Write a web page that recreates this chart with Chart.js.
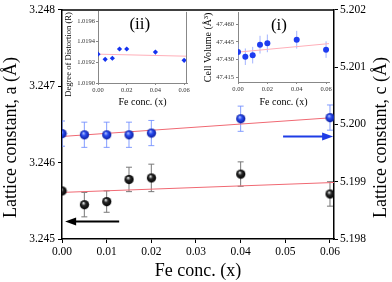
<!DOCTYPE html>
<html>
<head>
<meta charset="utf-8">
<script src="https://cdn.jsdelivr.net/npm/chart.js@4/dist/chart.umd.min.js"></script>
<style>
  body { margin: 0; background: #fff; }
  #wrap { position: relative; width: 392px; height: 282px; }
  #wrap canvas { position: absolute; }
</style>
</head>
<body>
<div id="wrap">
  <canvas id="mainChart" width="392" height="282" style="left:0;top:0"></canvas>
  <canvas id="distChart" width="128" height="104" style="left:63px;top:7px"></canvas>
  <canvas id="volChart" width="142" height="104" style="left:191px;top:7px"></canvas>
</div>
<script>
  // values
  const feConc = [0, 0.005, 0.01, 0.015, 0.02, 0.04, 0.06];
  const latticeA = [3.24563, 3.24545, 3.24549, 3.24578, 3.2458, 3.24585, 3.24559];
  const latticeAErr = [0.00016, 0.00016, 0.00014, 0.00016, 0.00018, 0.00016, 0.00016];
  const latticeC = [5.19984, 5.19982, 5.19982, 5.19982, 5.19985, 5.2001, 5.20012];
  const latticeCErr = [0.00022, 0.00022, 0.00022, 0.00022, 0.00022, 0.00022, 0.00022];
  const fitX = [0, 0.0609];
  const fitA = [3.24561, 3.24574];
  const fitC = [5.19979, 5.20012];

  const distortion = [1.01928, 1.01923, 1.01924, 1.01933, 1.01933, 1.0193, 1.01922];
  const cellVolume = [47.4363, 47.4324, 47.4337, 47.4426, 47.4437, 47.4468, 47.4384];
  const cellVolumeErr = [0.007, 0.007, 0.007, 0.0075, 0.0075, 0.0075, 0.007];
  const insetFitX = [0, 0.062];
  const distortionFit = [1.01928, 1.01926];
  const cellVolumeFit = [47.4363, 47.4435];

  const mainXTicks = [0, 0.01, 0.02, 0.03, 0.04, 0.05, 0.06];
  const aTicks = [3.245, 3.246, 3.247, 3.248];
  const cTicks = [5.198, 5.199, 5.2, 5.201, 5.202];
  const insetXTicks = [0, 0.02, 0.04, 0.06];
  const distTicks = [1.019, 1.0192, 1.0194, 1.0196];
  const volTicks = [47.415, 47.43, 47.445, 47.46];

  const serif = "'Liberation Serif', 'Times New Roman', serif";
  Chart.defaults.font.family = serif;
  Chart.defaults.color = '#000';

  const pts = (xs, ys) => xs.map((x, i) => ({ x: x, y: ys[i] }));
  const setTicks = (vals) => (scale) => { scale.ticks = vals.map((v) => ({ value: v })); };

  // shaded ball used as point marker
  const sphere = (r, hi, mid, edge) => {
    const c = document.createElement('canvas');
    c.width = c.height = 2 * r + 2;
    const ctx = c.getContext('2d');
    const m = r + 1;
    const g = ctx.createRadialGradient(m - r * 0.25, m - r * 0.4, r * 0.05, m, m, r);
    g.addColorStop(0, hi);
    g.addColorStop(0.4, mid);
    g.addColorStop(1, edge);
    ctx.fillStyle = g;
    ctx.beginPath();
    ctx.arc(m, m, r, 0, Math.PI * 2);
    ctx.fill();
    return c;
  };
  const blackBall = sphere(4.6, '#f4f8f8', '#2a2a2a', '#000');
  const blueBall = sphere(4.6, '#b8c8ff', '#2a4cf0', '#0a1ca0');

  const errorBars = (dsIndex, errs, color, cap, skip) => ({
    id: 'errbars' + dsIndex,
    beforeDatasetsDraw(chart) {
      const meta = chart.getDatasetMeta(dsIndex);
      const yScale = chart.scales[meta.yAxisID];
      const area = chart.chartArea;
      const ctx = chart.ctx;
      ctx.save();
      ctx.beginPath();
      ctx.rect(area.left, area.top - 20, area.right - area.left, area.bottom - area.top + 40);
      ctx.clip();
      ctx.strokeStyle = color;
      ctx.lineWidth = 1;
      meta.data.forEach((el, i) => {
        if (skip && skip.includes(i)) return;
        const v = chart.data.datasets[dsIndex].data[i].y;
        const top = yScale.getPixelForValue(v + errs[i]);
        const bot = yScale.getPixelForValue(v - errs[i]);
        ctx.beginPath();
        ctx.moveTo(el.x, top); ctx.lineTo(el.x, bot);
        ctx.moveTo(el.x - cap, top); ctx.lineTo(el.x + cap, top);
        ctx.moveTo(el.x - cap, bot); ctx.lineTo(el.x + cap, bot);
        ctx.stroke();
      });
      ctx.restore();
    },
  });

  // arrows pointing at the axis each series belongs to
  const arrows = [
    { axis: 'y', from: 0.0128, to: 0.0007, at: 3.24523, color: '#000' },
    { axis: 'y2', from: 0.0495, to: 0.0607, at: 5.19979, color: 'rgb(30,60,230)' },
  ];

  const mainDecor = {
    id: 'mainDecor',
    afterDraw(chart) {
      const ctx = chart.ctx;
      const area = chart.chartArea;
      const xs = chart.scales.x;
      ctx.save();
      // top frame line
      ctx.strokeStyle = '#000';
      ctx.lineWidth = 1.5;
      ctx.beginPath();
      ctx.moveTo(area.left, area.top);
      ctx.lineTo(area.right, area.top);
      ctx.stroke();

      arrows.forEach((a) => {
        const y = chart.scales[a.axis].getPixelForValue(a.at);
        const x0 = xs.getPixelForValue(a.from);
        const x1 = xs.getPixelForValue(a.to);
        const dir = Math.sign(x1 - x0);
        ctx.strokeStyle = a.color;
        ctx.fillStyle = a.color;
        ctx.lineWidth = 2;
        ctx.beginPath();
        ctx.moveTo(x0, y);
        ctx.lineTo(x1 - dir * 9, y);
        ctx.stroke();
        ctx.beginPath();
        ctx.moveTo(x1, y);
        ctx.lineTo(x1 - dir * 11, y - 4);
        ctx.lineTo(x1 - dir * 11, y + 4);
        ctx.closePath();
        ctx.fill();
      });

      // y titles, both read bottom to top
      ctx.fillStyle = '#000';
      ctx.font = '18px ' + serif;
      ctx.textAlign = 'center';
      ctx.textBaseline = 'middle';
      const midY = (area.top + area.bottom) / 2 + 13;
      ctx.translate(11, midY);
      ctx.rotate(-Math.PI / 2);
      ctx.fillText('Lattice constant, a (Å)', 0, 0);
      ctx.setTransform(1, 0, 0, 1, 0, 0);
      ctx.translate(381, midY);
      ctx.rotate(-Math.PI / 2);
      ctx.fillText('Lattice constant, c (Å)', 0, 0);
      ctx.restore();
    },
  };

  const axisStyle = () => ({
    grid: { drawOnChartArea: false, drawTicks: true, tickLength: 4, color: '#000' },
    border: { color: '#000', width: 1.5 },
  });

  new Chart(document.getElementById('mainChart'), {
    type: 'scatter',
    data: {
      datasets: [
        { data: pts(feConc, latticeA), yAxisID: 'y', pointStyle: blackBall, clip: 0 },
        { data: pts(feConc, latticeC), yAxisID: 'y2', pointStyle: blueBall, clip: 0 },
        { data: pts(fitX, fitA), yAxisID: 'y', showLine: true, borderColor: 'rgb(240,105,115)', borderWidth: 1, pointRadius: 0 },
        { data: pts(fitX, fitC), yAxisID: 'y2', showLine: true, borderColor: 'rgb(240,105,115)', borderWidth: 1, pointRadius: 0 },
      ],
    },
    options: {
      responsive: false,
      animation: false,
      devicePixelRatio: 1,
      layout: { padding: { top: 6, left: 0, right: 0, bottom: 0 } },
      plugins: { legend: { display: false }, tooltip: { enabled: false } },
      scales: {
        x: {
          type: 'linear',
          min: 0,
          max: 0.0609,
          afterBuildTicks: setTicks(mainXTicks),
          afterFit: (s) => { s.height = 43; },
          ticks: { callback: (v) => v.toFixed(2), font: { size: 11.5 }, padding: 2, maxRotation: 0, autoSkip: false },
          ...axisStyle(),
          title: { display: true, text: 'Fe conc. (x)', font: { size: 18 }, padding: 0 },
        },
        y: {
          position: 'left',
          min: 3.245,
          max: 3.248,
          afterBuildTicks: setTicks(aTicks),
          afterFit: (s) => { s.width = 62; },
          ticks: { callback: (v) => v.toFixed(3), font: { size: 11.5 }, padding: 3 },
          ...axisStyle(),
        },
        y2: {
          position: 'right',
          min: 5.198,
          max: 5.202,
          afterBuildTicks: setTicks(cTicks),
          afterFit: (s) => { s.width = 58; },
          ticks: { callback: (v) => v.toFixed(3), font: { size: 11.5 }, padding: 2 },
          ...axisStyle(),
        },
      },
    },
    plugins: [
      errorBars(0, latticeAErr, 'rgb(120,120,120)', 3, [0]),
      errorBars(1, latticeCErr, 'rgba(110,140,255,0.85)', 3),
      mainDecor,
    ],
  });

  // inset axes
  const insetX = (height) => ({
    type: 'linear',
    min: 0,
    max: 0.062,
    afterBuildTicks: setTicks(insetXTicks),
    afterFit: (s) => { s.height = height; },
    ticks: { callback: (v) => v.toFixed(2), font: { size: 6.5 }, color: '#333', padding: 1, maxRotation: 0, autoSkip: false },
    grid: { drawOnChartArea: false, tickLength: 2, color: '#888' },
    border: { color: '#888', width: 1 },
    title: { display: true, text: 'Fe conc. (x)', font: { size: 10 }, padding: { top: 0, bottom: 3 } },
  });

  const rightFrame = {
    id: 'rightFrame',
    afterDraw(chart) {
      const ctx = chart.ctx;
      const a = chart.chartArea;
      ctx.save();
      ctx.strokeStyle = '#888';
      ctx.lineWidth = 1;
      ctx.beginPath();
      ctx.moveTo(a.right - 0.5, a.top);
      ctx.lineTo(a.right - 0.5, a.bottom);
      ctx.stroke();
      ctx.restore();
    },
  };

  // panel tag, plus an optional hand-placed y title
  const insetLabel = (text, frac, yTitle) => ({
    id: 'insetLabel',
    afterDraw(chart) {
      const ctx = chart.ctx;
      const a = chart.chartArea;
      ctx.save();
      ctx.fillStyle = '#000';
      ctx.font = '17px ' + serif;
      ctx.textAlign = 'center';
      ctx.textBaseline = 'middle';
      ctx.fillText(text, a.left + (a.right - a.left) * frac, a.top + 13);
      if (yTitle) {
        ctx.font = yTitle.size + 'px ' + serif;
        ctx.translate(yTitle.x, (a.top + a.bottom) / 2 + yTitle.dy);
        ctx.rotate(-Math.PI / 2);
        ctx.fillText(yTitle.text, 0, 0);
      }
      ctx.restore();
    },
  });

  new Chart(document.getElementById('distChart'), {
    type: 'scatter',
    data: {
      datasets: [
        { data: pts(feConc, distortion), pointStyle: 'rectRot', pointRadius: 2.6, backgroundColor: 'rgb(20,50,240)', borderWidth: 0, clip: 0 },
        { data: pts(insetFitX, distortionFit), showLine: true, borderColor: 'rgb(255,175,185)', borderWidth: 1, pointRadius: 0 },
      ],
    },
    options: {
      responsive: false,
      animation: false,
      devicePixelRatio: 1,
      layout: { padding: { top: 0, left: 0, right: 1, bottom: 0 } },
      plugins: { legend: { display: false }, tooltip: { enabled: false } },
      scales: {
        x: insetX(28),
        y: {
          min: 1.019,
          max: 1.01969,
          afterBuildTicks: setTicks(distTicks),
          afterFit: (s) => { s.width = 35; },
          ticks: { callback: (v) => v.toFixed(4), font: { size: 6.5 }, color: '#333', padding: 1 },
          grid: { drawOnChartArea: false, tickLength: 2, color: '#888' },
          border: { color: '#888', width: 1 },
        },
      },
    },
    plugins: [rightFrame, insetLabel('(ii)', 0.47, { text: 'Degree of Distortion (R)', size: 8.6, x: 5.5, dy: 7 })],
  });

  new Chart(document.getElementById('volChart'), {
    type: 'scatter',
    data: {
      datasets: [
        { data: pts(feConc, cellVolume), pointRadius: 3, backgroundColor: 'rgb(30,60,240)', borderWidth: 0, clip: 0 },
        { data: pts(insetFitX, cellVolumeFit), showLine: true, borderColor: 'rgb(255,175,185)', borderWidth: 1, pointRadius: 0 },
      ],
    },
    options: {
      responsive: false,
      animation: false,
      devicePixelRatio: 1,
      layout: { padding: 0 },
      plugins: { legend: { display: false }, tooltip: { enabled: false } },
      scales: {
        x: insetX(29),
        y: {
          min: 47.411,
          max: 47.4695,
          afterBuildTicks: setTicks(volTicks),
          afterFit: (s) => { s.width = 47; },
          ticks: { callback: (v) => v.toFixed(3), font: { size: 6.5 }, color: '#333', padding: 2 },
          grid: { drawOnChartArea: false, tickLength: 2, color: '#888' },
          border: { color: '#888', width: 1 },
          title: { display: true, text: 'Cell Volume (Å³)', font: { size: 10 }, padding: { top: 11, bottom: 0 } },
        },
      },
    },
    plugins: [errorBars(0, cellVolumeErr, 'rgba(140,160,255,0.8)', 0), insetLabel('(i)', 0.45)],
  });
</script>
</body>
</html>
